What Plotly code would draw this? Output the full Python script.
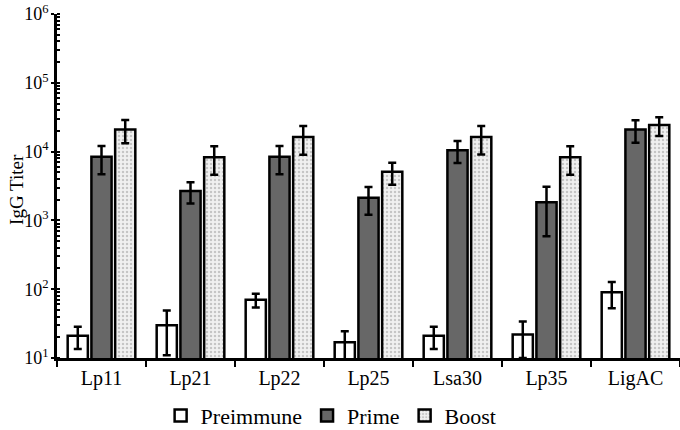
import plotly.graph_objects as go

categories = ["Lp11", "Lp21", "Lp22", "Lp25", "Lsa30", "Lp35", "LigAC"]
series_names = ["Preimmune", "Prime", "Boost"]
pre_vals = [21, 30, 70, 17, 21, 22, 90]
pre_err = [7.5, 19, 16, 7.5, 7.5, 12, 37]
prime_vals = [8400, 2680, 8400, 2140, 10500, 1840, 21000]
prime_err = [3700, 920, 3700, 930, 3700, 1250, 7600]
boost_vals = [21000, 8300, 16300, 5100, 16300, 8300, 24300]
boost_err = [7800, 3700, 7300, 1800, 7200, 3700, 7400]
ytick_vals = [10, 100, 1000, 10000, 100000, 1000000]
ytick_text = ["10<sup>1</sup>", "10<sup>2</sup>", "10<sup>3</sup>",
              "10<sup>4</sup>", "10<sup>5</sup>", "10<sup>6</sup>"]
y_title = "IgG Titer"

FONT = "Liberation Serif, Times New Roman, serif"
err_style = dict(type="data", color="black", thickness=2.5, width=4, visible=True)
line = dict(color="black", width=2.5)

fig = go.Figure()
fig.add_trace(go.Bar(
    name=series_names[0], x=categories, y=pre_vals,
    marker=dict(color="white", line=line),
    error_y=dict(array=pre_err, **err_style)))
fig.add_trace(go.Bar(
    name=series_names[1], x=categories, y=prime_vals,
    marker=dict(color="#676767", line=line),
    error_y=dict(array=prime_err, **err_style)))
fig.add_trace(go.Bar(
    name=series_names[2], x=categories, y=boost_vals,
    marker=dict(color="white", line=line,
                pattern=dict(shape=".", fgcolor="#9a9a9a", bgcolor="#f0f0f0",
                             size=4, solidity=0.3)),
    error_y=dict(array=boost_err, **err_style)))

fig.update_layout(
    width=680, height=430,
    margin=dict(l=57, r=0, t=14, b=72, autoexpand=False),
    paper_bgcolor="white", plot_bgcolor="white",
    barmode="group", bargap=0.2, bargroupgap=0.15,
    font=dict(family=FONT, color="black"),
    showlegend=True,
    legend=dict(orientation="h", x=0.44, xanchor="center", y=-0.168, yanchor="middle",
                font=dict(family=FONT, size=22), itemwidth=30, tracegroupgap=0,
                bgcolor="rgba(0,0,0,0)"),
    annotations=[dict(text=y_title, xref="paper", yref="paper",
                      x=-0.065, y=0.49, xanchor="center", yanchor="middle",
                      textangle=-90, showarrow=False,
                      font=dict(family=FONT, size=19, color="black"))],
)
fig.update_xaxes(
    type="category", range=[-0.5, 6.5], automargin=False,
    showline=True, linecolor="black", linewidth=2.5,
    ticks="outside", tickson="boundaries", ticklen=6, tickwidth=2, tickcolor="black",
    showgrid=False, zeroline=False,
    tickfont=dict(family=FONT, size=20),
)
fig.update_yaxes(
    type="log", range=[1, 6], automargin=False,
    showline=True, linecolor="black", linewidth=2.5,
    tickmode="array", tickvals=ytick_vals, ticktext=ytick_text,
    ticks="outside", ticklen=3, tickwidth=2, tickcolor="black",
    ticklabeloverflow="allow", ticklabelstandoff=-1,
    minor=dict(ticks="inside", ticklen=3, tickwidth=1.5, tickcolor="black",
               dtick="D1", showgrid=False),
    showgrid=False, zeroline=False,
    tickfont=dict(family=FONT, size=18),
)

fig.write_html("out.html", config={"displayModeBar": False},
               post_script="document.body.style.margin='0';document.body.style.overflow='hidden';")
